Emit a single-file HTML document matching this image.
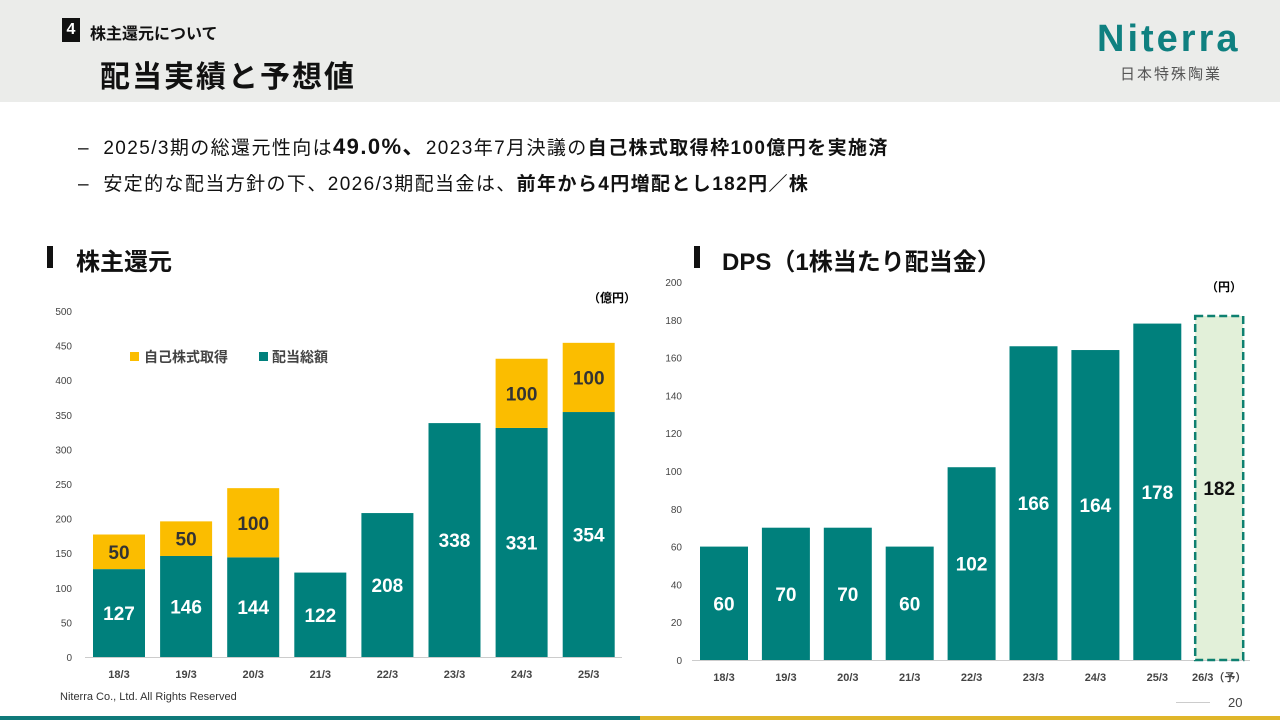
<!DOCTYPE html>
<html><head><meta charset="utf-8">
<style>
body{margin:0;width:1280px;height:720px;position:relative;background:#fff;font-family:"Liberation Sans","Noto Sans CJK JP",sans-serif;overflow:hidden;color:#111}
.abs{position:absolute}
</style></head><body>
<div class="abs" style="left:0;top:0;width:1280px;height:102px;background:#ebecea"></div>
<div class="abs" style="left:62px;top:18px;width:18px;height:24px;background:#111;color:#fff;font-weight:bold;font-size:16px;text-align:center;line-height:24px">4</div>
<div class="abs" style="left:90px;top:20px;font-size:16px;font-weight:bold">株主還元について</div>
<div class="abs" style="left:100px;top:52px;font-size:30px;font-weight:bold;letter-spacing:2px">配当実績と予想値</div>
<div class="abs" style="left:1097px;top:18px;font-size:38px;font-weight:bold;color:#0f8080;letter-spacing:3px">Niterra</div>
<div class="abs" style="left:1120px;top:63px;font-size:15px;color:#555;letter-spacing:2px">日本特殊陶業</div>
<div class="abs" style="left:78px;top:129px;font-size:19px;letter-spacing:1.4px">–&nbsp;&nbsp;2025/3期の総還元性向は<b style="font-size:22px">49.0%、</b>2023年7月決議の<b>自己株式取得枠100億円を実施済</b></div>
<div class="abs" style="left:78px;top:169px;font-size:19px;letter-spacing:1.4px">–&nbsp;&nbsp;安定的な配当方針の下、2026/3期配当金は、<b>前年から4円増配とし182円／株</b></div>
<div class="abs" style="left:47px;top:246px;width:6px;height:22px;background:#111"></div>
<div class="abs" style="left:76px;top:242px;font-size:24px;font-weight:bold">株主還元</div>
<div class="abs" style="left:694px;top:246px;width:6px;height:22px;background:#111"></div>
<div class="abs" style="left:722px;top:242px;font-size:24px;font-weight:bold">DPS（1株当たり配当金）</div>
<div class="abs" style="left:60px;top:691px;font-size:11px;color:#333">Niterra Co., Ltd. All Rights Reserved</div>
<div class="abs" style="left:1228px;top:695px;font-size:13px;color:#444">20</div>
<div class="abs" style="left:1176px;top:702px;width:34px;height:1px;background:#ccc"></div>
<div class="abs" style="left:0;top:716px;width:640px;height:4px;background:#0f7a7a"></div>
<div class="abs" style="left:640px;top:716px;width:640px;height:4px;background:#e0b62a"></div>
<svg class="abs" style="left:0;top:0" width="1280" height="720" id="svg"></svg>
<script>
const leftCats=["18/3","19/3","20/3","21/3","22/3","23/3","24/3","25/3"];
const dividendTotal=[127,146,144,122,208,338,331,354];
const buyback=[50,50,100,0,0,0,100,100];
const leftTicks=[0,50,100,150,200,250,300,350,400,450,500];
const rightCats=["18/3","19/3","20/3","21/3","22/3","23/3","24/3","25/3","26/3（予）"];
const dps=[60,70,70,60,102,166,164,178,182];
const rightTicks=[0,20,40,60,80,100,120,140,160,180,200];
const NS="http://www.w3.org/2000/svg";
const svg=document.getElementById('svg');
function mk(t,a,txt){const e=document.createElementNS(NS,t);for(const k in a)e.setAttribute(k,a[k]);if(txt!==undefined)e.textContent=txt;svg.appendChild(e);return e;}
const F='"Liberation Sans","Noto Sans CJK JP",sans-serif';
const ly=v=>657-v*346/500, lx=i=>119+i*67.1;
leftTicks.forEach(t=>{const e=mk('text',{x:72,y:ly(t)+4,'text-anchor':'end','font-size':10,fill:'#444','font-family':F},t);

});
let ax=mk('line',{x1:85,x2:622,y1:657.5,y2:657.5,stroke:'#ccc'});


mk('text',{x:636,y:302,'text-anchor':'end','font-size':12,'font-weight':'bold','font-family':F},'（億円）');
leftCats.forEach((c,i)=>{
 const w=52,x=lx(i)-w/2;
 let r=mk('rect',{x:x,y:ly(dividendTotal[i]),width:w,height:ly(0)-ly(dividendTotal[i]),fill:'#00807c'});
 
 
 mk('text',{x:lx(i),y:(ly(dividendTotal[i])+ly(0))/2+7,'text-anchor':'middle','font-size':19,'font-weight':'bold',fill:'#fff','font-family':F},dividendTotal[i]);
 if(buyback[i]>0){
  const top=dividendTotal[i]+buyback[i];
  let b=mk('rect',{x:x,y:ly(top),width:w,height:ly(dividendTotal[i])-ly(top),fill:'#fbbd00'});
  
  
  mk('text',{x:lx(i),y:(ly(top)+ly(dividendTotal[i]))/2+7,'text-anchor':'middle','font-size':19,'font-weight':'bold',fill:'#333','font-family':F},buyback[i]);
 }
 let l=mk('text',{x:lx(i),y:678,'text-anchor':'middle','font-size':11,'font-weight':'bold',fill:'#444','font-family':F},c);
 
 
});
mk('rect',{x:130,y:352,width:9,height:9,fill:'#fbbd00'});
mk('text',{x:144,y:362,'font-size':14,'font-weight':'bold',fill:'#444','font-family':F},'自己株式取得');
mk('rect',{x:259,y:352,width:9,height:9,fill:'#00807c'});
mk('text',{x:272,y:362,'font-size':14,'font-weight':'bold',fill:'#444','font-family':F},'配当総額');
const ry=v=>660-v*378/200, rx=i=>724+i*61.9;
rightTicks.forEach(t=>{const e=mk('text',{x:682,y:ry(t)+4,'text-anchor':'end','font-size':10,fill:'#444','font-family':F},t);

});
ax=mk('line',{x1:692,x2:1250,y1:660.5,y2:660.5,stroke:'#ccc'});


mk('text',{x:1242,y:291,'text-anchor':'end','font-size':12,'font-weight':'bold','font-family':F},'（円）');
rightCats.forEach((c,i)=>{
 const w=48,x=rx(i)-w/2,last=i===rightCats.length-1;
 let r=mk('rect',last?{x:x,y:ry(dps[i]),width:w,height:ry(0)-ry(dps[i]),fill:'#e2f0d9',stroke:'#0e8070','stroke-width':2.5,'stroke-dasharray':'8,4'}:{x:x,y:ry(dps[i]),width:w,height:ry(0)-ry(dps[i]),fill:'#00807c'});
 
 
 mk('text',{x:rx(i),y:(ry(dps[i])+ry(0))/2+7,'text-anchor':'middle','font-size':19,'font-weight':'bold',fill:last?'#111':'#fff','font-family':F},dps[i]);
 let l=mk('text',{x:rx(i),y:681,'text-anchor':'middle','font-size':11,'font-weight':'bold',fill:'#444','font-family':F},c);
 
 
});
</script>
</body></html>
